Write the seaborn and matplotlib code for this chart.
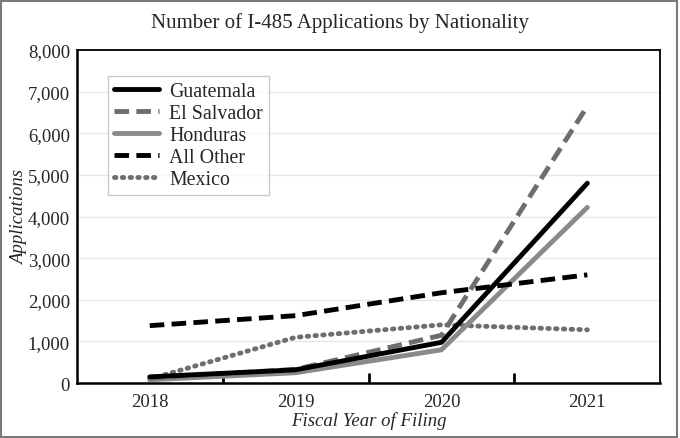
import pandas as pd
import numpy as np
import matplotlib
matplotlib.use("Agg")
import matplotlib.pyplot as plt
import seaborn as sns
from matplotlib.patches import Rectangle

#Data
years = [2018, 2019, 2020, 2021]
guatemala = [150, 320, 980, 4800]
el_salvador = [120, 330, 1150, 6650]
honduras = [80, 250, 800, 4220]
all_other = [1380, 1620, 2170, 2600]
mexico = [100, 1100, 1400, 1280]

series = ["Guatemala", "El Salvador", "Honduras", "All Other", "Mexico"]
values = [guatemala, el_salvador, honduras, all_other, mexico]

df = pd.DataFrame({
    "year": years * len(series),
    "apps": np.concatenate(values),
    "nationality": np.repeat(series, len(years)),
})

sns.set_style("white")
plt.rcParams['font.family'] = ['Liberation Serif', 'DejaVu Serif']

styles = {
    "Guatemala": dict(color="black", linestyle="-", z=5),
    "El Salvador": dict(color="#6e6e6e", linestyle=(0, (3, 1.5)), z=3),
    "Honduras": dict(color="#8a8a8a", linestyle="-", z=2),
    "All Other": dict(color="black", linestyle=(0, (3, 1.5)), z=4),
    "Mexico": dict(color="#6e6e6e", linestyle=(0, (0.3, 1.3)), z=1),
}

fig = plt.figure(figsize=(6.8, 4.39), dpi=100)
ax = fig.add_axes([0.113, 0.125, 0.858, 0.759])

for name in series:
    st = styles[name]
    sns.lineplot(
        data=df[df["nationality"] == name], x="year", y="apps", ax=ax,
        color=st["color"], linewidth=3.5, label=name, zorder=st["z"],
        solid_capstyle="round", dash_capstyle="round" if name == "Mexico" else "butt",
    )
    ax.lines[-1].set_linestyle(st["linestyle"])

ax.set_xlim(2017.5, 2021.5)
ax.set_ylim(0, 8000)
ax.set_yticks(range(0, 8001, 1000))
ax.set_yticklabels([f"{v:,}" for v in range(0, 8001, 1000)], fontsize=13.5)
ax.set_xticks(years)
ax.set_xticklabels([str(y) for y in years], fontsize=13.5)
ax.set_xticks([2018.5, 2019.5, 2020.5], minor=True)
ax.tick_params(axis="x", which="major", length=0, pad=7)
ax.tick_params(axis="x", which="minor", bottom=True, direction="in", length=7, width=2, color="black")
ax.tick_params(axis="y", length=0, pad=5)
ax.grid(axis="y", color="#e6e6e6", lw=1)
ax.set_axisbelow(True)
for sp in ax.spines.values():
    sp.set_color("black")
    sp.set_linewidth(1.3)
ax.spines["left"].set_linewidth(1.8)
ax.spines["bottom"].set_linewidth(1.8)

ax.set_xlabel("Fiscal Year of Filing", fontsize=13.5, style="italic", labelpad=1)
ax.set_ylabel("Applications", fontsize=13.5, style="italic", labelpad=0)
fig.suptitle("Number of I-485 Applications by Nationality", fontsize=15, y=0.97)

leg = ax.legend(loc="upper left", bbox_to_anchor=(0.053, 0.922), fontsize=14.3,
                frameon=True, fancybox=False, edgecolor="#bdbdbd",
                handlelength=2.3, labelspacing=0.15, borderpad=0.3, handletextpad=0.5,
                borderaxespad=0)
leg.get_frame().set_linewidth(1)

fig.add_artist(Rectangle((0.002, 0.003), 0.994, 0.993, transform=fig.transFigure,
                         fill=False, edgecolor="#7a7a7a", lw=1.5))

fig.savefig("out.png", dpi=100)
